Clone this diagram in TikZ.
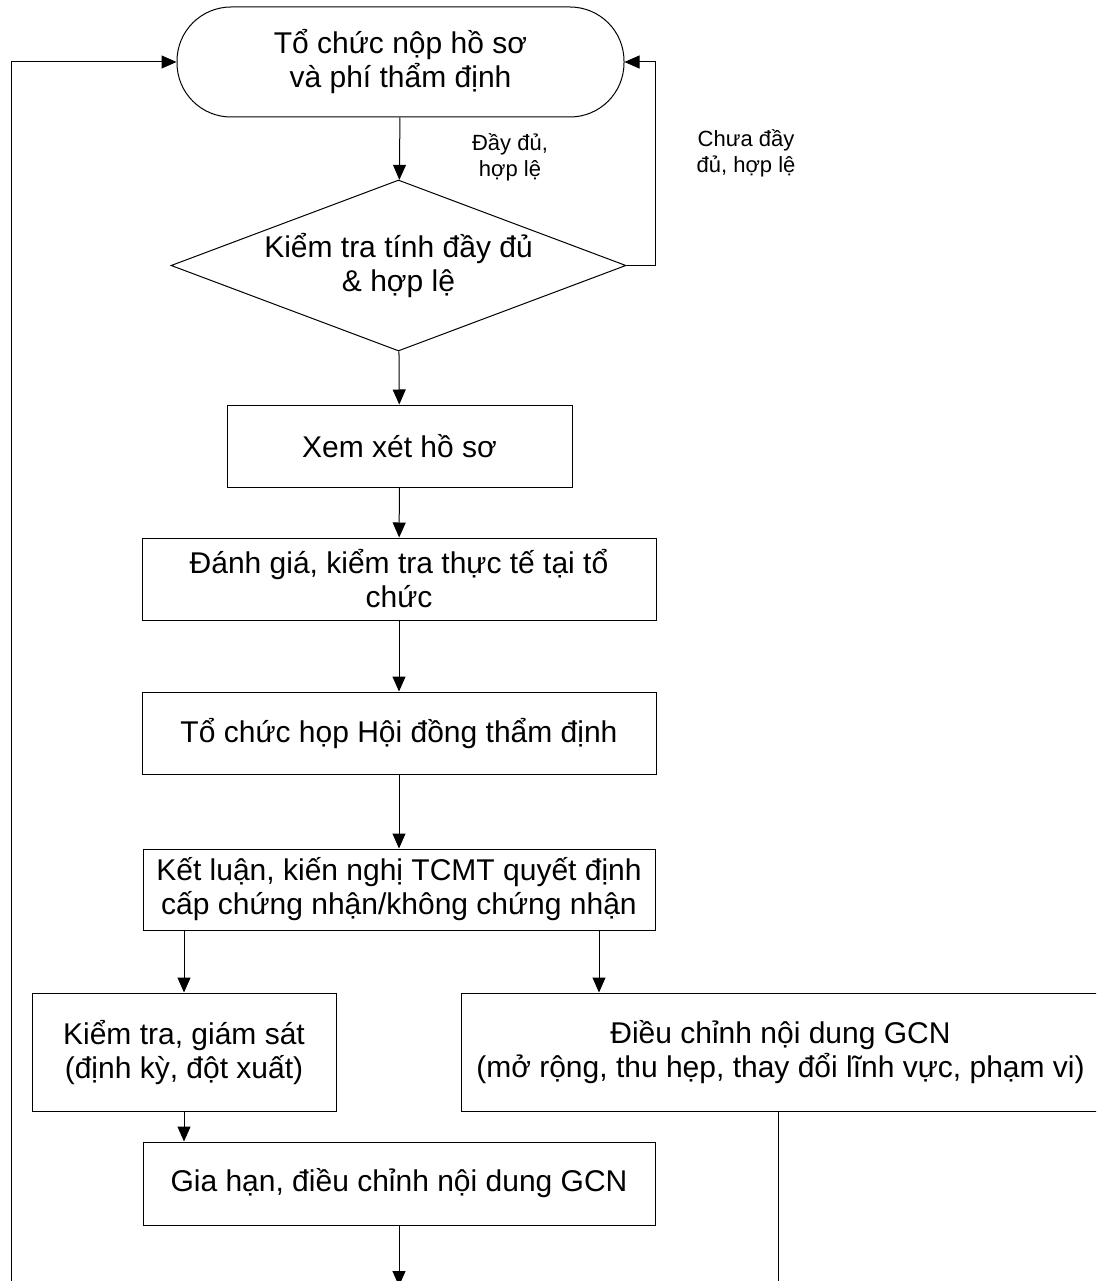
\documentclass[tikz,border=0pt]{standalone}
\usepackage{fontspec}
\setmainfont{Liberation Sans}
\usetikzlibrary{shapes.geometric,arrows.meta}
\tikzset{
  box/.style={draw,line width=1pt,align=center,inner sep=0pt,
    font=\fontsize{30}{34}\selectfont},
  term/.style={box,rounded corners=54pt,minimum width=447pt,minimum height=110pt},
  check/.style={box,shape=diamond,aspect=2.66,minimum width=455pt,minimum height=171pt},
  note/.style={align=center,inner sep=0pt,font=\fontsize{22}{26}\selectfont},
  flow/.style={->,line width=1pt}
}
\begin{document}
\begin{tikzpicture}[x=1pt,y=-1pt,>={Triangle[length=15pt,width=13pt]}]
  \clip (0,0) rectangle (1096,1281);
  % Khoi chinh
  \node[term] (nop) at (400.5,62) {Tổ chức nộp hồ sơ\\và phí thẩm định};
  \node[check] (ktra) at (398.5,265.5) {Kiểm tra tính đầy đủ\\\& hợp lệ};
  \node[box,minimum width=345pt,minimum height=82pt] (xem) at (399.5,446) {Xem xét hồ sơ};
  \node[box,minimum width=514pt,minimum height=82pt] (danhgia) at (399,579)
    {Đánh giá, kiểm tra thực tế tại tổ\\chức};
  \node[box,minimum width=514pt,minimum height=82pt] (hop) at (399,733)
    {Tổ chức họp Hội đồng thẩm định};
  \node[box,minimum width=512pt,minimum height=81pt] (ketluan) at (399,889.5)
    {Kết luận, kiến nghị TCMT quyết định\\cấp chứng nhận/không chứng nhận};
  \node[box,minimum width=304pt,minimum height=118pt] (giamsat) at (184,1052)
    {Kiểm tra, giám sát\\(định kỳ, đột xuất)};
  \node[box,minimum width=639pt,minimum height=118pt] (dieuchinh) at (780.5,1052)
    {Điều chỉnh nội dung GCN\\(mở rộng, thu hẹp, thay đổi lĩnh vực, phạm vi)};
  \node[box,minimum width=512pt,minimum height=83pt] (giahan) at (399,1183.5)
    {Gia hạn, điều chỉnh nội dung GCN};
  % Nhan
  \node[note] (du) at (510,157) {Đầy đủ,\\hợp lệ};
  \node[note] (chuadu) at (746,153) {Chưa đầy\\đủ, hợp lệ};
  % Diem ngoai khung
  \coordinate (outL) at (11,1300);
  \coordinate (outB) at (399,1286);
  \coordinate (outR) at (778,1300);
  % Mui ten
  \draw[flow] (nop) -- (ktra);
  \draw[flow] (ktra.east) -- ++(29,0) |- (nop.east);
  \draw[flow] (ktra) -- (xem);
  \draw[flow] (xem) -- (danhgia);
  \draw[flow] (danhgia) -- (hop);
  \draw[flow] (hop) -- (ketluan);
  \draw[flow] (ketluan.south -| giamsat.north) -- (giamsat.north);
  \draw[flow] ([xshift=200pt]ketluan.south) -- ([xshift=200pt]ketluan.south |- dieuchinh.north);
  \draw[flow] (giamsat.south) -- (giamsat.south |- giahan.north);
  \draw[flow] (giahan) -- (outB);
  \draw[line width=1pt] (dieuchinh.south -| outR) -- (outR);
  \draw[flow] (outL) |- (nop.west);
\end{tikzpicture}
\end{document}
